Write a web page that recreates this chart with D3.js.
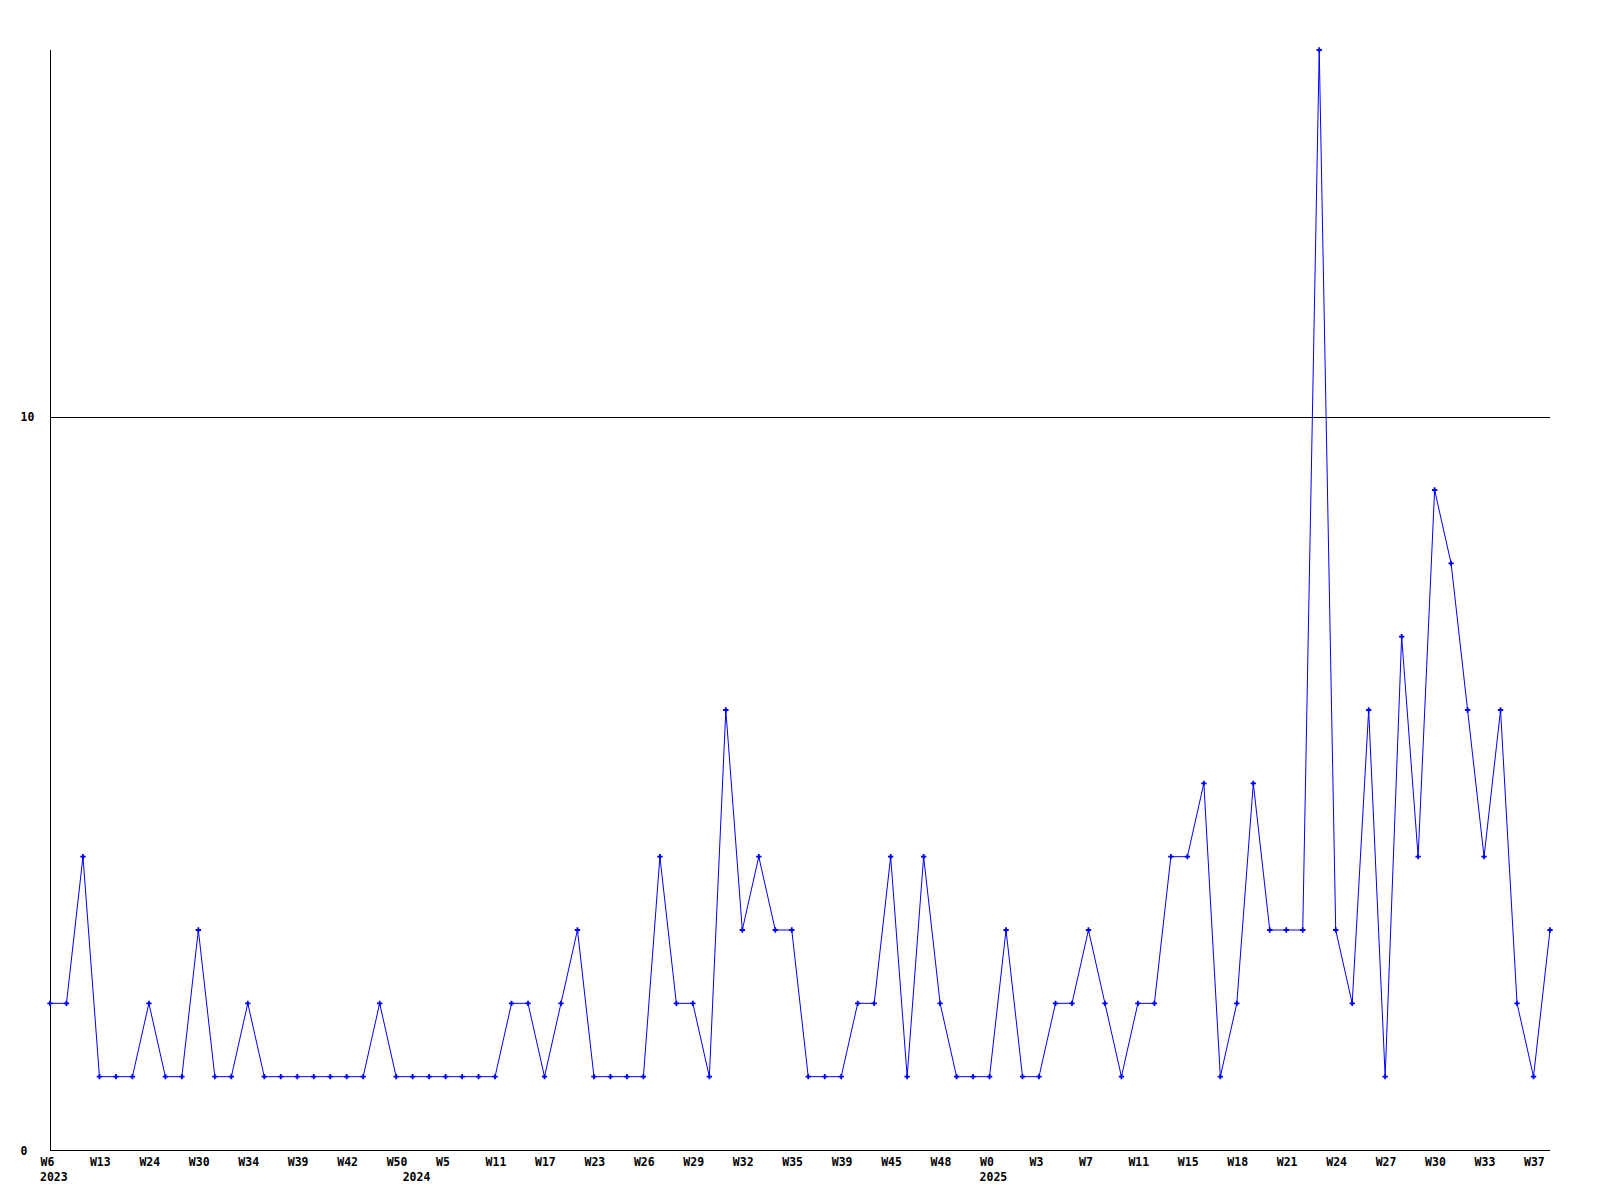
<!DOCTYPE html>
<html>
<head>
<meta charset="utf-8">
<script src="https://cdn.jsdelivr.net/npm/d3@7"></script>
<style>
  html, body { margin: 0; padding: 0; background: #fff; }
  svg { display: block; }
  text { font-family: "DejaVu Sans Mono", "Liberation Mono", monospace; font-weight: bold; font-size: 11.5px; fill: #000; }
</style>
</head>
<body>
<svg id="chart" width="1600" height="1200"></svg>
<script>
const values = [2,2,4,1,1,1,2,1,1,3,1,1,2,1,1,1,1,1,1,1,2,1,1,1,1,1,1,1,2,2,
  1,2,3,1,1,1,1,4,2,2,1,6,3,4,3,3,1,1,1,2,2,4,1,4,2,1,1,1,3,1,
  1,2,2,3,2,1,2,2,4,4,5,1,2,5,3,3,3,15,3,2,6,1,7,4,9,8,6,4,6,2,1,3];
const weekLabels = ["W6","W13","W24","W30","W34","W39","W42","W50","W5","W11","W17","W23","W26","W29","W32","W35","W39","W45","W48","W0","W3","W7","W11","W15","W18","W21","W24","W27","W30","W33","W37"];
const labelStep = 3;
const yearLabels = ["2023","2024","2025"];
const yearIndex = [0,22,57];
const yTicks = [0,10];

const svg = d3.select("#chart");
const mLeft = 50, mRight = 1550, mTop = 50, mBottom = 1150;

const x = d3.scaleLinear().domain([0, values.length - 1]).range([mLeft, mRight]);
const y = d3.scaleLinear().domain([0, 15]).range([mBottom, mTop]);

// gridline at 10
svg.append("g").selectAll("line").data(yTicks.filter(d => d > 0)).join("line")
  .attr("x1", mLeft).attr("x2", mRight)
  .attr("y1", d => Math.round(y(d)) + 0.5).attr("y2", d => Math.round(y(d)) + 0.5)
  .attr("stroke", "#000").attr("stroke-width", 1);

// y axis
const yAxis = d3.axisLeft(y).tickValues(yTicks).tickSize(0).tickFormat(d3.format("d"));
const gy = svg.append("g").attr("transform", `translate(${mLeft + 0.5},0)`).call(yAxis);
gy.select(".domain").attr("stroke", "#000").attr("d", `M0,${mTop}V${mBottom}`);
gy.selectAll("text").attr("text-anchor", "start").attr("x", 20 - mLeft).attr("dy", "0.35em");

// x axis
const tickIdx = weekLabels.map((_, i) => i * labelStep);
const xAxis = d3.axisBottom(x).tickValues(tickIdx).tickSize(0)
  .tickFormat((d, i) => weekLabels[i]);
const gx = svg.append("g").attr("transform", `translate(0,${mBottom + 0.5})`).call(xAxis);
gx.select(".domain").attr("stroke", "#000").attr("d", `M${mLeft},0H${mRight}`);
gx.selectAll("text").attr("text-anchor", "start").attr("x", -10).attr("y", 0).attr("dy", "15.5");

// year labels
svg.append("g").selectAll("text").data(yearLabels).join("text")
  .attr("x", (d, i) => x(yearIndex[i]) - 10)
  .attr("y", mBottom + 31)
  .text(d => d);

// line
const line = d3.line().x((d, i) => x(i)).y(d => y(d));
svg.append("path").datum(values)
  .attr("fill", "none").attr("stroke", "#0000ff").attr("stroke-width", 1)
  .attr("d", line);

// markers
svg.append("g").selectAll("path").data(values).join("path")
  .attr("transform", (d, i) => `translate(${x(i)},${y(d)})`)
  .attr("d", d3.symbol(d3.symbolCross, 16))
  .attr("fill", "#0000ff");
</script>
</body>
</html>
